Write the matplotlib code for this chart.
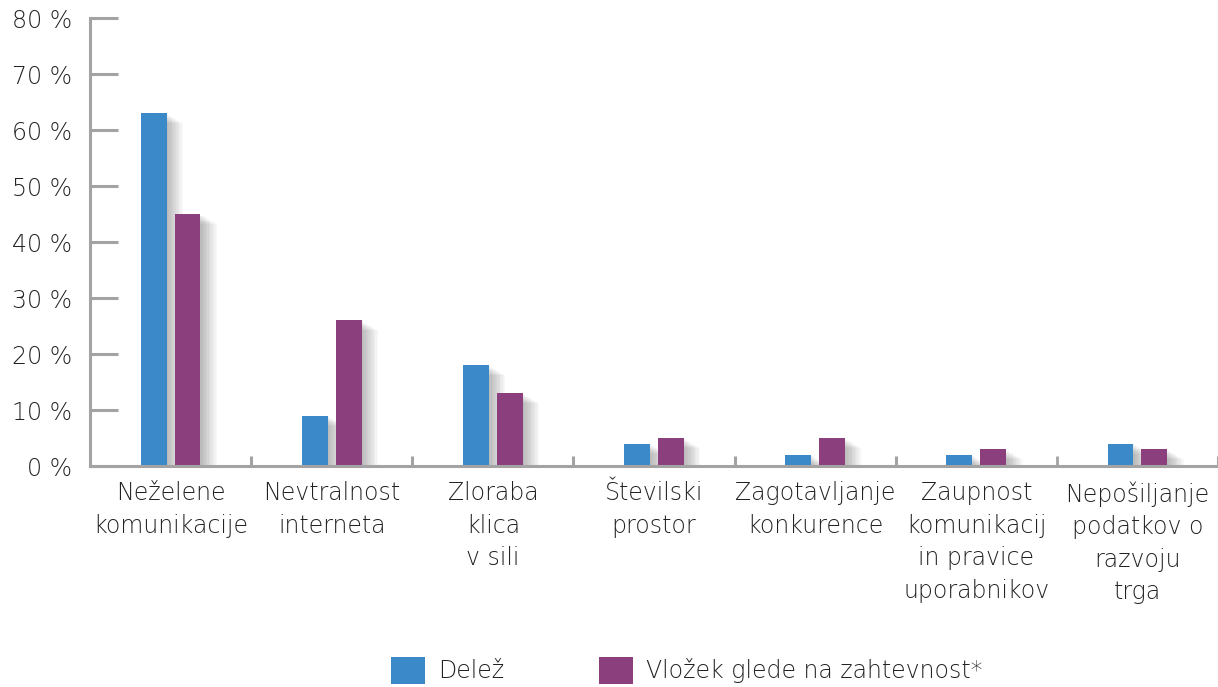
import matplotlib
matplotlib.use("Agg")
import matplotlib.pyplot as plt
import matplotlib.patheffects as pe
from matplotlib.patches import Patch
import numpy as np

categories = [
    "Neželene\nkomunikacije",
    "Nevtralnost\ninterneta",
    "Zloraba\nklica\nv sili",
    "Številski\nprostor",
    "Zagotavljanje\nkonkurence",
    "Zaupnost\nkomunikacij\nin pravice\nuporabnikov",
    "Nepošiljanje\npodatkov o\nrazvoju\ntrga",
]
delez = [63, 9, 18, 4, 2, 2, 4]
vlozek = [45, 26, 13, 5, 5, 3, 3]
series_names = ["Delež", "Vložek glede na zahtevnost*"]
yticks = [0, 10, 20, 30, 40, 50, 60, 70, 80]

blue = "#3b89c9"
purple = "#8b3f7d"
axis_grey = "#a3a3a3"
text_col = "#222222"

plt.rcParams["font.family"] = ["DejaVu Sans"]
plt.rcParams["font.weight"] = "light"

fig = plt.figure(figsize=(12.18, 6.87), dpi=100)
ax = fig.add_axes([90 / 1218, 221 / 687, 1128 / 1218, 448 / 687])

x = np.arange(len(categories))
w = 0.16
off = 0.105

# soft drop shadow: many faint layers
shadow = [pe.SimplePatchShadow(offset=(k, -0.6 * k), shadow_rgbFace="#000000",
                               alpha=0.022) for k in range(12, 0, -1)]
shadow.append(pe.Normal())
b1 = ax.bar(x - off, delez, w, color=blue, zorder=3)
b2 = ax.bar(x + off, vlozek, w, color=purple, zorder=3)
for bar in list(b1) + list(b2):
    bar.set_path_effects(shadow)

ax.set_xlim(-0.5, len(categories) - 0.5)
ax.set_ylim(0, 80)

for s in ["top", "right"]:
    ax.spines[s].set_visible(False)
for s in ["left", "bottom"]:
    ax.spines[s].set_color(axis_grey)
    ax.spines[s].set_linewidth(2.2)
    ax.spines[s].set_zorder(4)

ax.set_yticks(yticks)
ax.set_yticklabels([f"{v} %" for v in yticks])
ax.tick_params(axis="y", direction="in", length=20, width=2.2, color=axis_grey,
               labelsize=17, labelcolor=text_col, pad=13)

ax.set_xticks(x)
ax.set_xticklabels(categories, linespacing=1.45)
ax.tick_params(axis="x", which="major", length=0, labelsize=17,
               labelcolor=text_col, pad=11)
ax.set_xticks(np.arange(0.5, len(categories)), minor=True)
ax.tick_params(axis="x", which="minor", direction="in", length=7, width=2.2,
               color=axis_grey)
minor_ticks = ax.xaxis.get_minor_ticks()
minor_ticks[5].tick1line.set_color("black")
minor_ticks[5].tick1line.set_markeredgewidth(2)

handles = [Patch(facecolor=blue), Patch(facecolor=purple)]
fig.legend(handles, series_names, loc="center", bbox_to_anchor=(0.564, 0.024),
           ncol=2, frameon=False, fontsize=17, handlelength=1.45,
           handleheight=1.35, handletextpad=0.55, columnspacing=4.0,
           borderpad=0, labelcolor=text_col)

fig.savefig("out.png", dpi=100)
